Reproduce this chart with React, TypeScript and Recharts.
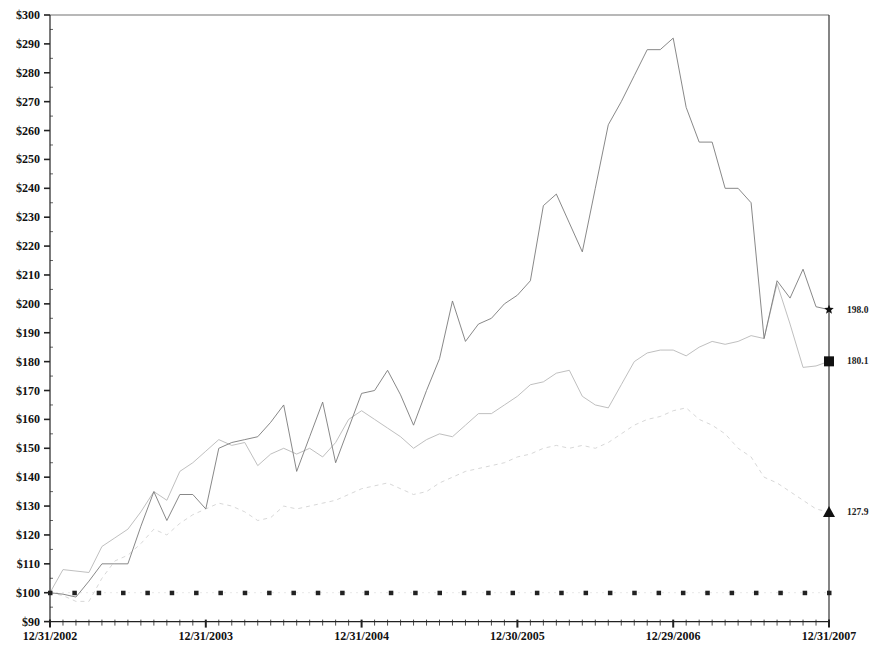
import { LineChart, Line, XAxis, YAxis, ReferenceLine } from 'recharts';

// month index 0..60 runs from 12/31/2002 to 12/31/2007
const dateLabels = ['12/31/2002', '12/31/2003', '12/31/2004', '12/30/2005', '12/29/2006', '12/31/2007'];
const yTickValues = [90, 100, 110, 120, 130, 140, 150, 160, 170, 180, 190, 200, 210, 220, 230, 240, 250, 260, 270, 280, 290, 300];

const companyValues = [
    100, 99.5, 98.5, 104, 110, 110, 110, 123, 135, 125, 134, 134, 129,
    150, 152, 153, 154, 159, 165, 142, 154, 166, 145, 157, 169, 170, 177,
    168.5, 158, 170, 181, 201, 187, 193, 195, 200, 203, 208, 234, 238, 228,
    218, 240, 262, 270, 279, 288, 288, 292, 268, 256, 256, 240, 240, 235,
    188, 208, 202, 212, 199, 198.0,
];
const indexValues = [
    100, 108, 107.5, 107, 116, 119, 122, 128, 135, 132, 142, 145, 149,
    153, 151, 152, 144, 148, 150, 148, 150, 147, 152, 160, 163, 160, 157,
    154, 150, 153, 155, 154, 158, 162, 162, 165, 168, 172, 173, 176, 177,
    168, 165, 164, 172, 180, 183, 184, 184, 182, 185, 187, 186, 187, 189,
    188, 207, 193, 178, 178.5, 180.1,
];
const peerValues = [
    100, 99, 97, 97, 105, 111, 113, 117, 122, 120, 124, 127, 129,
    131, 130, 128, 125, 126, 130, 129, 130, 131, 132, 134, 136, 137, 138,
    136, 134, 135, 138, 140, 142, 143, 144, 145, 147, 148, 150, 151, 150,
    151, 150, 152, 155, 158, 160, 161, 163, 164, 160, 158, 155, 150, 147,
    140, 138, 135, 132, 129, 127.9,
];
const baseMonths = [
    0, 1.875, 3.75, 5.625, 7.5, 9.375, 11.25, 13.125, 15, 16.875, 18.75,
    20.625, 22.5, 24.375, 26.25, 28.125, 30, 31.875, 33.75, 35.625, 37.5,
    39.375, 41.25, 43.125, 45, 46.875, 48.75, 50.625, 52.5, 54.375, 56.25,
    58.125, 60,
];
const baseValues = [
    100, 100, 100, 100, 100, 100, 100, 100, 100, 100, 100,
    100, 100, 100, 100, 100, 100, 100, 100, 100, 100,
    100, 100, 100, 100, 100, 100, 100, 100, 100, 100,
    100, 100,
];

const companyData = companyValues.map((v, i) => ({ m: i, v }));
const indexData = indexValues.map((v, i) => ({ m: i, v }));
const peerData = peerValues.map((v, i) => ({ m: i, v }));
const baseData = baseValues.map((v, i) => ({ m: baseMonths[i], v }));

const monthTicks = companyValues.map((_, i) => i);
const yTicks = yTickValues.flatMap((v) => (v < 300 ? [v, v + 5] : [v]));

const FONT = '"Liberation Serif", "DejaVu Serif", serif';

function XTick(props: any) {
    const { x, y, payload } = props;
    const m = payload.value;
    const major = m % 12 === 0;
    return (
        <g>
            <line x1={x} x2={x} y1={y - 2} y2={y + (major ? 6 : 4)} stroke="#222" strokeWidth={major ? 2 : 0.8} />
            {major && (
                <text x={x} y={y + 18} textAnchor="middle" fontFamily={FONT} fontWeight="bold" fontSize={12} fill="#111">
                    {dateLabels[m / 12]}
                </text>
            )}
        </g>
    );
}

function YTick(props: any) {
    const { x, y, payload } = props;
    const v = payload.value;
    const major = v % 10 === 0;
    return (
        <g>
            <line x1={x - (major ? 6 : 0)} x2={x + (major ? 0 : 3)} y1={y} y2={y} stroke="#222" strokeWidth={major ? 1.6 : 0.7} />
            {major && (
                <text x={x - 10} y={y + 4} textAnchor="end" fontFamily={FONT} fontWeight="bold" fontSize={12} fill="#111">
                    {`$${v}`}
                </text>
            )}
        </g>
    );
}

function endDot(shape: string, label: string, count: number) {
    return (props: any) => {
        const { cx, cy, index } = props;
        if (index !== count - 1) return <g key={`d-${index}`} />;
        let mark;
        if (shape === 'square') {
            mark = <rect x={cx - 5} y={cy - 5} width={10} height={10} fill="#111" />;
        } else if (shape === 'triangle') {
            mark = <path d={`M${cx},${cy - 6} L${cx + 6},${cy + 5} L${cx - 6},${cy + 5} Z`} fill="#111" />;
        } else {
            const pts = [];
            for (let k = 0; k < 10; k++) {
                const r = k % 2 === 0 ? 5 : 2.2;
                const a = -Math.PI / 2 + (k * Math.PI) / 5;
                pts.push(`${cx + r * Math.cos(a)},${cy + r * Math.sin(a)}`);
            }
            mark = <polygon points={pts.join(' ')} fill="#111" />;
        }
        return (
            <g key={`d-${index}`}>
                {mark}
                <text x={cx + 18} y={cy + 3} fontFamily={FONT} fontWeight="bold" fontSize={9.5} fill="#222">
                    {label}
                </text>
            </g>
        );
    };
}

function baseDot(props: any) {
    const { cx, cy, index } = props;
    return <rect key={`b-${index}`} x={cx - 2} y={cy - 2} width={4.5} height={4.5} fill="#222" />;
}

export default function App() {
    return (
        <div style={{ position: 'absolute', left: 0, top: 0, width: 869, height: 650, background: '#fff' }}>
            <LineChart width={869} height={650} margin={{ top: 15, right: 40, bottom: 0, left: 0 }}>
                <XAxis
                    type="number"
                    dataKey="m"
                    domain={[0, 60]}
                    ticks={monthTicks}
                    interval={0}
                    height={28.4}
                    tickSize={0}
                    tickMargin={0}
                    tick={<XTick />}
                    axisLine={{ stroke: '#222', strokeWidth: 1.2 }}
                />
                <YAxis
                    type="number"
                    domain={[90, 300]}
                    ticks={yTicks}
                    interval={0}
                    width={50}
                    tickSize={0}
                    tickMargin={0}
                    tick={<YTick />}
                    axisLine={{ stroke: '#222', strokeWidth: 1.2 }}
                />
                <ReferenceLine y={300} stroke="#a0a0a0" strokeWidth={1.5} />
                <ReferenceLine x={60} stroke="#333" strokeWidth={1.2} />
                <Line
                    data={baseData}
                    dataKey="v"
                    stroke="#e8e8e8"
                    strokeDasharray="2 4"
                    strokeWidth={1}
                    dot={baseDot}
                    isAnimationActive={false}
                />
                <Line
                    data={peerData}
                    dataKey="v"
                    stroke="#d2d2d2"
                    strokeDasharray="4 4"
                    strokeWidth={0.9}
                    dot={endDot('triangle', '127.9', peerData.length)}
                    isAnimationActive={false}
                />
                <Line
                    data={indexData}
                    dataKey="v"
                    stroke="#b8b8b8"
                    strokeWidth={0.9}
                    dot={endDot('square', '180.1', indexData.length)}
                    isAnimationActive={false}
                />
                <Line
                    data={companyData}
                    dataKey="v"
                    stroke="#7a7a7a"
                    strokeWidth={0.9}
                    dot={endDot('star', '198.0', companyData.length)}
                    isAnimationActive={false}
                />
            </LineChart>
        </div>
    );
}
